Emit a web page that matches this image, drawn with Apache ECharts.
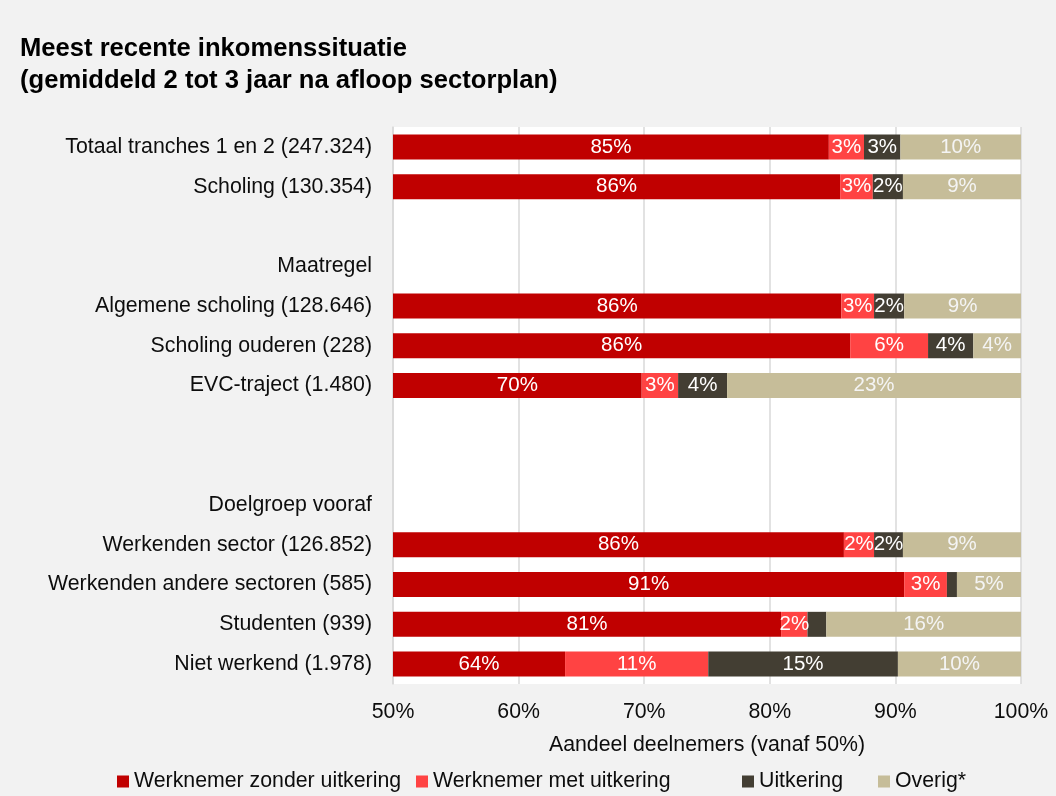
<!DOCTYPE html>
<html>
<head>
<meta charset="utf-8">
<script src="https://cdn.jsdelivr.net/npm/echarts@6/dist/echarts.min.js"></script>
<style>
  html, body { margin: 0; padding: 0; background: #f2f2f2; }
  #chart { width: 1056px; height: 796px; }
</style>
</head>
<body>
<div id="chart"></div>
<script>
// categorieen (lege regels en kopjes zonder balk)
var categories = [
  'Totaal tranches 1 en 2 (247.324)',
  'Scholing (130.354)',
  ' ',
  'Maatregel',
  'Algemene scholing (128.646)',
  'Scholing ouderen (228)',
  'EVC-traject (1.480)',
  '  ',
  '   ',
  'Doelgroep vooraf',
  'Werkenden sector (126.852)',
  'Werkenden andere sectoren (585)',
  'Studenten (939)',
  'Niet werkend (1.978)'
];

// aandelen in procenten
var zonderUitkering = [84.7, 85.6, null, null, 85.7, 86.4, 69.8, null, null, null, 85.9, 90.7, 80.9, 63.7];
var metUitkering    = [2.8,  2.6,  null, null, 2.6,  6.2,  2.9,  null, null, null, 2.4,  3.4,  2.1,  11.4];
var uitkering       = [2.9,  2.4,  null, null, 2.4,  3.6,  3.9,  null, null, null, 2.3,  0.8,  1.5,  15.1];
var overig          = [9.6,  9.4,  null, null, 9.3,  3.8,  23.4, null, null, null, 9.4,  5.1,  15.5, 9.8];

var seriesNames = ['Werknemer zonder uitkering', 'Werknemer met uitkering', 'Uitkering', 'Overig*'];
var seriesColors = ['#c00000', '#ff4343', '#433e33', '#c6bd99'];
var seriesData = [zonderUitkering, metUitkering, uitkering, overig];
var legendLeft = [117, 416, 742, 878];

var FONT = '"Liberation Sans", Arial, sans-serif';

var chart = echarts.init(document.getElementById('chart'));

var series = seriesNames.map(function(name, i){
  return {
    name: name,
    type: 'bar',
    stack: 'totaal',
    barWidth: 25,
    data: seriesData[i],
    itemStyle: { color: seriesColors[i] },
    label: {
      show: true,
      position: 'inside',
      color: i === 3 ? '#f4f4f4' : '#ffffff',
      fontFamily: FONT,
      fontSize: 20.5,
      formatter: function(p){
        return p.value >= 2 ? Math.round(p.value) + '%' : '';
      }
    }
  };
});

var legends = seriesNames.map(function(name, i){
  return {
    data: [name],
    left: legendLeft[i],
    top: 771,
    padding: 0,
    icon: 'rect',
    itemWidth: 12,
    itemHeight: 12,
    selectedMode: false,
    textStyle: { fontFamily: FONT, fontSize: 21.3, color: '#0d0d0d' }
  };
});

chart.setOption({
  backgroundColor: '#f2f2f2',
  animation: false,
  title: {
    text: 'Meest recente inkomenssituatie\n(gemiddeld 2 tot 3 jaar na afloop sectorplan)',
    left: 20,
    top: 33,
    padding: 0,
    textStyle: {
      fontFamily: FONT,
      fontSize: 25.6,
      fontWeight: 'bold',
      lineHeight: 32,
      color: '#000'
    }
  },
  legend: legends,
  grid: {
    left: 393,
    top: 127,
    width: 628,
    height: 557,
    show: true,
    backgroundColor: '#ffffff',
    borderWidth: 0
  },
  xAxis: {
    type: 'value',
    min: 50,
    max: 100,
    interval: 10,
    name: 'Aandeel deelnemers (vanaf 50%)',
    nameLocation: 'middle',
    nameGap: 51,
    nameTextStyle: { fontFamily: FONT, fontSize: 21.3, color: '#0d0d0d' },
    axisLine: { show: false },
    axisTick: { show: false },
    axisLabel: {
      margin: 18,
      fontFamily: FONT,
      fontSize: 21.3,
      color: '#0d0d0d',
      formatter: '{value}%'
    },
    splitLine: { show: true, lineStyle: { color: '#d9d9d9', width: 1.5 } }
  },
  yAxis: {
    type: 'category',
    inverse: true,
    data: categories,
    axisLine: { show: true, lineStyle: { color: '#d9d9d9', width: 1.5 } },
    axisTick: { show: false },
    axisLabel: {
      margin: 21,
      fontFamily: FONT,
      fontSize: 21.3,
      color: '#0d0d0d'
    }
  },
  series: series
});
</script>
</body>
</html>
